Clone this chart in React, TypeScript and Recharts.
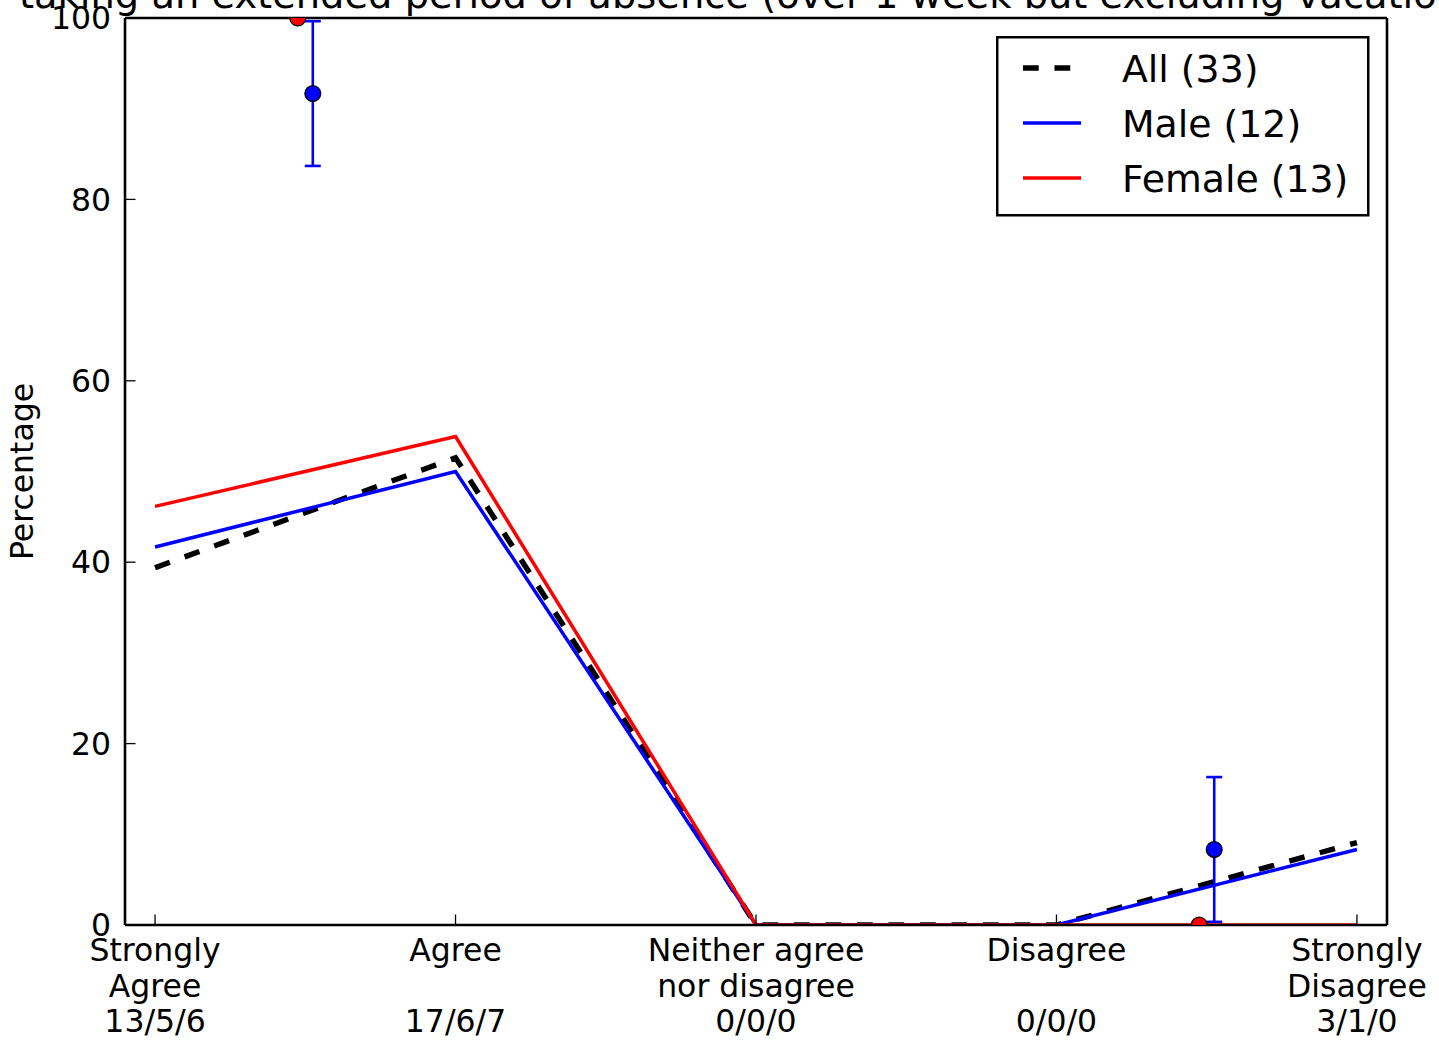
import { ComposedChart, Line, Scatter, ErrorBar, XAxis, YAxis, Legend } from 'recharts';

// x categories: first two lines of each tick label, then the All/Male/Female counts
const categoryLines = [
  ['Strongly', 'Agree'],
  ['Agree', ''],
  ['Neither agree', 'nor disagree'],
  ['Disagree', ''],
  ['Strongly', 'Disagree'],
];
const counts = ['13/5/6', '17/6/7', '0/0/0', '0/0/0', '3/1/0'];

// percentages per category
const allValues = [39.39, 51.52, 0, 0, 9.09];
const maleValues = [41.67, 50.0, 0, 0, 8.33];
const femaleValues = [46.15, 53.85, 0, 0, 0];

// summary points (drawn between categories) with standard error
const malePointX = [0.525, 3.525];
const malePointY = [91.67, 8.33];
const malePointErr = [7.98, 7.98];
const femalePointX = [0.475, 3.475];
const femalePointY = [100, 0];

const yTicks = [0, 20, 40, 60, 80, 100];
const xTicks = [0, 1, 2, 3, 4];
const legendOrder = ['all', 'male', 'female'];
const title = 'taking an extended period of absence (over 1 week but excluding vacation)';

const rows = xTicks.map((x, i) => ({
  x,
  all: allValues[i],
  male: maleValues[i],
  female: femaleValues[i],
}));
const malePoints = malePointX.map((x, i) => ({ x, y: malePointY[i], err: malePointErr[i] }));
const femalePoints = femalePointX.map((x, i) => ({ x, y: femalePointY[i] }));

const FONT = '"DejaVu Sans", sans-serif';

function CategoryTick({ x, y, payload }: any) {
  const i = payload.value;
  const lines = [...categoryLines[i], counts[i]];
  return (
    <g>
      {lines.map((t, k) => (
        <text key={k} x={x} y={y + 36 + k * 35.5} textAnchor="middle" fontSize={31.5} fill="#000">
          {t}
        </text>
      ))}
    </g>
  );
}

function YLabel({ viewBox }: any) {
  const cx = 33;
  const cy = viewBox.y + viewBox.height / 2;
  return (
    <text x={cx} y={cy} transform={`rotate(-90 ${cx} ${cy})`} textAnchor="middle" fontSize={31.5} fill="#000">
      Percentage
    </text>
  );
}

function LegendBox({ payload }: any) {
  const items = (payload || [])
    .filter((p: any) => p.type !== 'none')
    .sort((a: any, b: any) => legendOrder.indexOf(a.dataKey) - legendOrder.indexOf(b.dataKey));
  return (
    <svg width={374} height={182} style={{ display: 'block' }}>
      <rect x={1.25} y={1.25} width={371} height={178} fill="#fff" stroke="#000" strokeWidth={2.5} />
      {items.map((p: any, i: number) => {
        const ly = 32 + i * 55;
        return (
          <g key={p.value}>
            <line
              x1={27}
              x2={85}
              y1={ly}
              y2={ly}
              stroke={p.color}
              strokeWidth={p.payload?.strokeWidth ?? 3.5}
              strokeDasharray={p.payload?.strokeDasharray}
            />
            <text x={126} y={ly + 14} fontSize={37.8} fill="#000" fontFamily={FONT}>
              {p.value}
            </text>
          </g>
        );
      })}
    </svg>
  );
}

const dot = (fill: string) => (p: any) => (
  <circle cx={p.cx} cy={p.cy} r={7.9} fill={fill} stroke="#000" strokeWidth={1.3} />
);

export default function App() {
  return (
    <div style={{ position: 'absolute', left: 0, top: 0, fontFamily: FONT, background: '#fff' }}>
      <ComposedChart width={1439} height={1045} data={rows} margin={{ top: 17, right: 51, bottom: 0, left: 0 }}>
        <text x={19} y={8} fontSize={38.4} fill="#000" fontFamily={FONT}>
          {title}
        </text>
        <XAxis
          dataKey="x"
          type="number"
          domain={[-0.1, 4.1]}
          ticks={xTicks}
          allowDataOverflow
          height={120}
          stroke="#000"
          axisLine={{ stroke: '#000', strokeWidth: 2.6 }}
          tickLine={{ stroke: '#000', strokeWidth: 1.3 }}
          tickSize={-10.5}
          tickMargin={10.5}
          tick={<CategoryTick />}
          interval={0}
        />
        <XAxis
          xAxisId="top"
          orientation="top"
          dataKey="x"
          type="number"
          domain={[-0.1, 4.1]}
          ticks={xTicks}
          allowDataOverflow
          height={1}
          axisLine={{ stroke: '#000', strokeWidth: 2.6 }}
          tickLine={{ stroke: '#000', strokeWidth: 1.3 }}
          tickSize={-10.5}
          tick={false}
        />
        <YAxis
          type="number"
          domain={[0, 100]}
          ticks={yTicks}
          allowDataOverflow
          width={125}
          axisLine={{ stroke: '#000', strokeWidth: 2.6 }}
          tickLine={{ stroke: '#000', strokeWidth: 1.3 }}
          tickSize={-10.5}
          tickMargin={24.5}
          tick={{ fill: '#000', fontSize: 31.5 }}
          label={<YLabel />}
        />
        <YAxis
          yAxisId="right"
          orientation="right"
          type="number"
          domain={[0, 100]}
          ticks={yTicks}
          allowDataOverflow
          width={1}
          axisLine={{ stroke: '#000', strokeWidth: 2.6 }}
          tickLine={{ stroke: '#000', strokeWidth: 1.3 }}
          tickSize={-10.5}
          tick={false}
        />
        <Legend
          layout="vertical"
          align="center"
          verticalAlign="middle"
          content={<LegendBox />}
          wrapperStyle={{ left: 996, top: 36, width: 374, height: 182 }}
        />
        <Line
          dataKey="all"
          name="All (33)"
          stroke="#000"
          strokeWidth={5.4}
          strokeDasharray="15.75 15.75"
          dot={false}
          activeDot={false}
          isAnimationActive={false}
        />
        <Line
          dataKey="male"
          name="Male (12)"
          stroke="#0000ff"
          strokeWidth={3.5}
          dot={false}
          activeDot={false}
          isAnimationActive={false}
        />
        <Line
          dataKey="female"
          name="Female (13)"
          stroke="#ff0000"
          strokeWidth={3.5}
          dot={false}
          activeDot={false}
          isAnimationActive={false}
        />
        <Scatter data={malePoints} dataKey="y" legendType="none" shape={dot('#0000ff')} isAnimationActive={false}>
          <ErrorBar dataKey="err" direction="y" width={8} stroke="#0000ff" strokeWidth={2.6} />
        </Scatter>
        <Scatter data={femalePoints} dataKey="y" legendType="none" shape={dot('#ff0000')} isAnimationActive={false} />
      </ComposedChart>
    </div>
  );
}
